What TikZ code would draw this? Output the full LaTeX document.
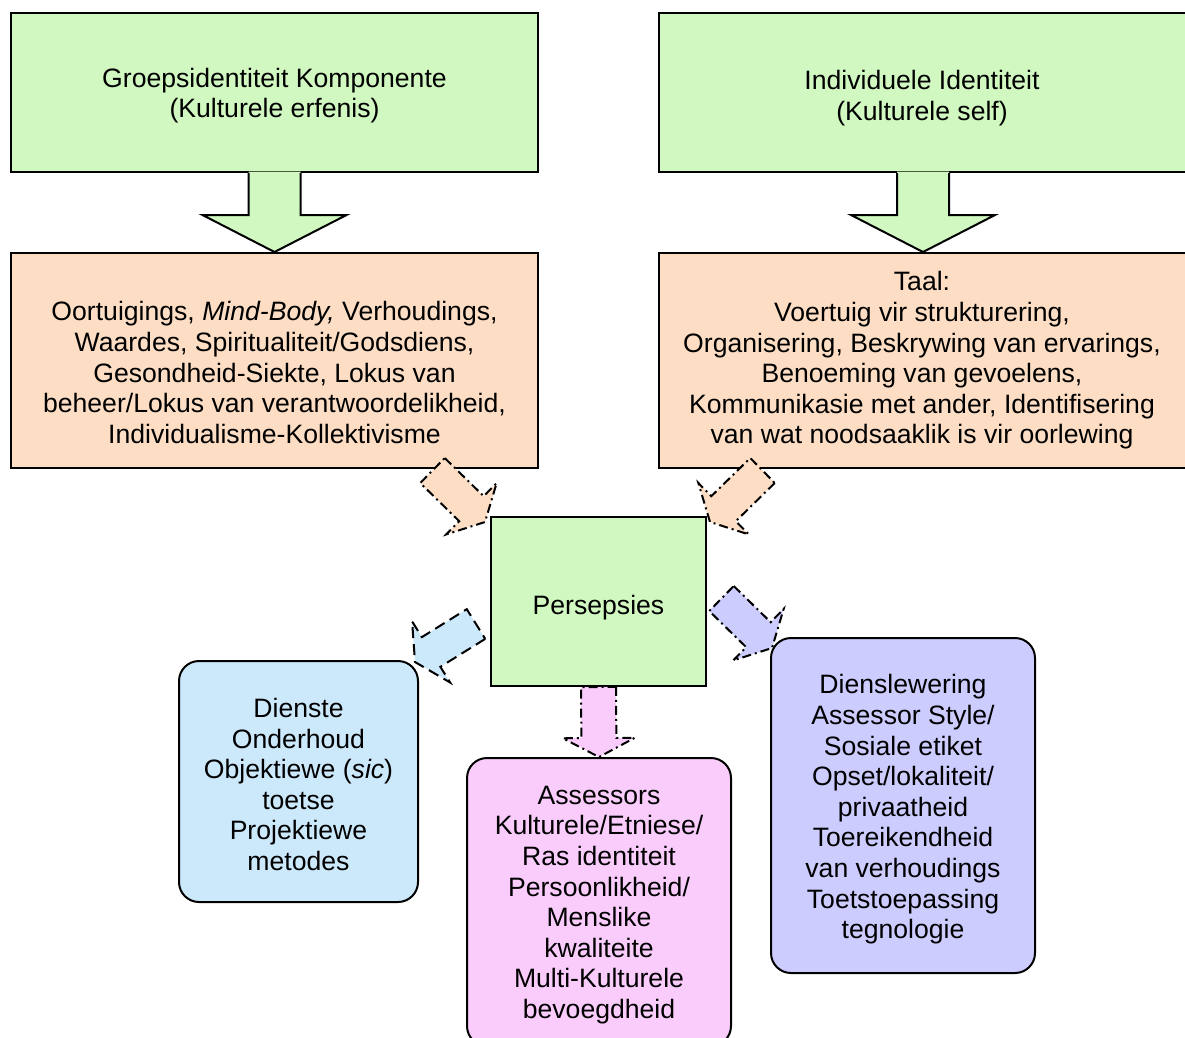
\documentclass[tikz,border=0pt]{standalone}
\usepackage{fontspec}
\setmainfont{Liberation Sans}
\usetikzlibrary{calc}

\definecolor{boxgreen}{RGB}{208,248,192}
\definecolor{boxpeach}{RGB}{253,222,196}
\definecolor{boxblue}{RGB}{204,233,252}
\definecolor{boxpink}{RGB}{250,204,252}
\definecolor{boxlilac}{RGB}{204,204,255}

\tikzset{
  every node/.style={font=\fontsize{26.6}{30.6}\selectfont, align=center, text=black},
  box/.style={draw=black, line width=2pt, inner sep=0pt},
  rbox/.style={box, rounded corners=20pt},
  textonly/.style={inner sep=0pt},
  bigarrowline/.style={draw=black, line width=2pt, line join=miter},
  dashdot/.style={line width=2pt, draw=black, dash pattern=on 9pt off 4pt on 2pt off 4pt},
  dashlong/.style={line width=2pt, draw=black, dash pattern=on 11pt off 6pt},
}

% Flat block arrow from a tail centre (#2) to a tip (#3)
\newcommand\blockarrow[3]{%
  \coordinate (hb) at ($(#3)!19pt!(#2)$);
  \path[#1] ($(#2)!17.5pt!90:(#3)$)
    -- ($(hb)!17.5pt!90:(#3)$)
    -- ($(hb)!36pt!90:(#3)$)
    -- (#3)
    -- ($(hb)!36pt!-90:(#3)$)
    -- ($(hb)!17.5pt!-90:(#3)$)
    -- ($(#2)!17.5pt!-90:(#3)$)
    -- cycle;
}

\begin{document}
\begin{tikzpicture}[x=1pt, y=-1pt]
  \useasboundingbox (0,0) rectangle (1185,1037);
  \clip (0,0) rectangle (1185,1037);

  % top row: identity sources
  \node[box, fill=boxgreen, minimum width=527pt, minimum height=159pt] (g1) at (274.5,92.5) {};
  \node[textonly] (g1text) at (274.5,95.5) {Groepsidentiteit Komponente\\(Kulturele erfenis)};
  \node[box, fill=boxgreen, minimum width=528pt, minimum height=159pt] (g2) at (923,92.5) {};
  \node[textonly] (g2text) at (922,98) {Individuele Identiteit\\(Kulturele self)};

  % second row: components
  \node[box, fill=boxpeach, minimum width=527pt, minimum height=215pt] (o1) at (274.5,360.5) {};
  \node[textonly] (o1text) at (274.5,372.5)
    {Oortuigings, \textit{Mind-Body,} Verhoudings,\\Waardes, Spiritualiteit/Godsdiens,\\Gesondheid-Siekte, Lokus van\\beheer/Lokus van verantwoordelikheid,\\Individualisme-Kollektivisme};
  \node[box, fill=boxpeach, minimum width=528pt, minimum height=215pt] (o2) at (923,360.5) {};
  \node[textonly] (o2text) at (922,360.5)
    {Taal:\\Voertuig vir strukturering,\\Organisering, Beskrywing van ervarings,\\Benoeming van gevoelens,\\Kommunikasie met ander, Identifisering\\van wat noodsaaklik is vir oorlewing};

  % centre
  \node[box, fill=boxgreen, minimum width=215pt, minimum height=169pt] (per) at (598.5,601.5) {};
  \node[textonly] (pertext) at (598.5,607.5) {Persepsies};

  % bottom row
  \node[rbox, fill=boxblue, minimum width=239pt, minimum height=241pt] (b) at (298.5,781.5) {};
  \node[textonly] (btext) at (298.5,784.5)
    {Dienste\\Onderhoud\\Objektiewe (\textit{sic})\\toetse\\Projektiewe\\metodes};
  \node[rbox, fill=boxpink, minimum width=264pt, minimum height=288pt] (p) at (599,902) {};
  \node[textonly] (ptext) at (599,905)
    {Assessors\\Kulturele/Etniese/\\Ras identiteit\\Persoonlikheid/\\Menslike\\kwaliteite\\Multi-Kulturele\\bevoegdheid};
  \node[rbox, fill=boxlilac, minimum width=264pt, minimum height=335pt] (v) at (903,805.5) {};
  \node[textonly] (vtext) at (903,809.5)
    {Dienslewering\\Assessor Style/\\Sosiale etiket\\Opset/lokaliteit/\\privaatheid\\Toereikendheid\\van verhoudings\\Toetstoepassing\\tegnologie};

  % solid green block arrows, merging into the boxes above
  \foreach \src/\dst in {g1/o1, g2/o2} {
    \fill[boxgreen] ($(\src.south)+(-26,-1.5)$) -- ($(\src.south)+(-26,42)$) -- ($(\src.south)+(-72,42)$)
      -- (\dst.north) -- ($(\src.south)+(72,42)$) -- ($(\src.south)+(26,42)$) -- ($(\src.south)+(26,-1.5)$) -- cycle;
    \draw[bigarrowline] ($(\src.south)+(-26,0)$) -- ($(\src.south)+(-26,42)$) -- ($(\src.south)+(-72,42)$)
      -- (\dst.north) -- ($(\src.south)+(72,42)$) -- ($(\src.south)+(26,42)$) -- ($(\src.south)+(26,0)$);
  }

  % dashed arrows around the perception box
  \coordinate (olTail) at (432.5,470.5);
  \coordinate (olTip)  at (485,522);
  \coordinate (orTail) at (762.5,470.5);
  \coordinate (orTip)  at (710,522);
  \coordinate (bTail)  at (476,624);
  \coordinate (bTip)   at (415,662);
  \coordinate (vTail)  at (721.5,598.5);
  \coordinate (vTip)   at (772,648);
  \coordinate (pTip)   at (599,757);

  \blockarrow{fill=boxpeach, dashdot}{olTail}{olTip}
  \blockarrow{fill=boxpeach, dashdot}{orTail}{orTip}
  \blockarrow{fill=boxblue, dashlong}{bTail}{bTip}
  \blockarrow{fill=boxlilac, dashdot}{vTail}{vTip}
  \blockarrow{fill=boxpink, dashdot}{per.south}{pTip}
\end{tikzpicture}
\end{document}
